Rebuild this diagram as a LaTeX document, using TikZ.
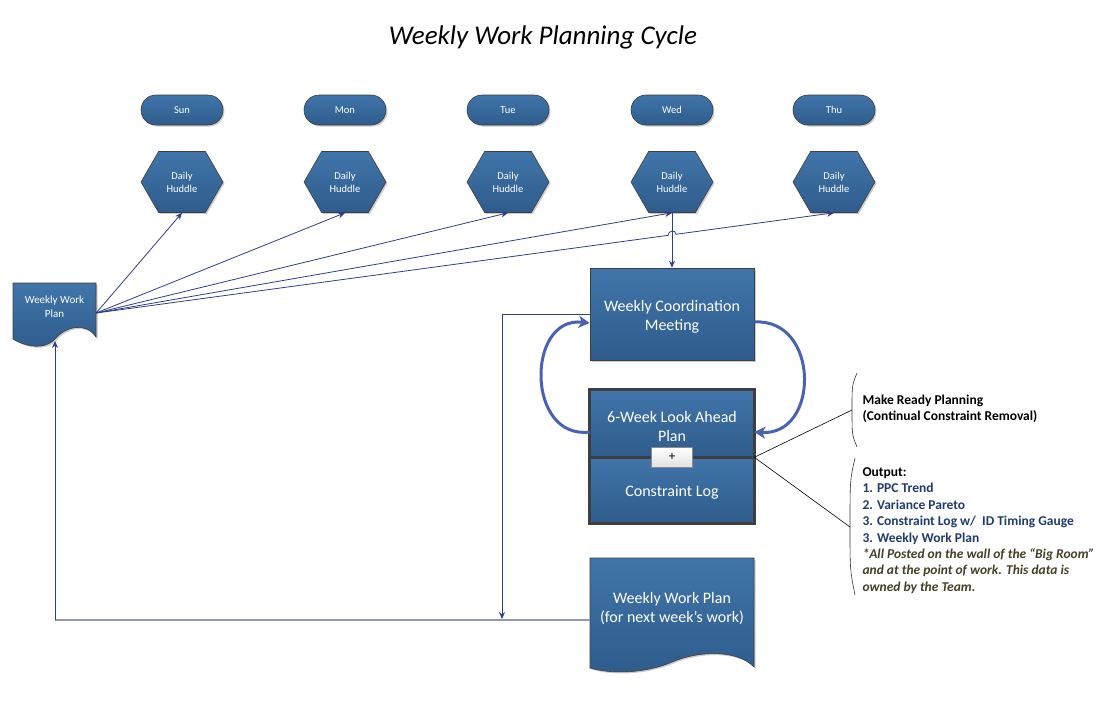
\documentclass[tikz,border=0pt]{standalone}
\usepackage{fontspec}
\setmainfont{Carlito}
\usetikzlibrary{shapes.symbols,shapes.misc,arrows.meta,calc,shadows}
\definecolor{boxtop}{HTML}{4175AA}
\definecolor{boxbot}{HTML}{2E5C8C}
\definecolor{boxline}{HTML}{3F3F3F}
\definecolor{linkblue}{HTML}{2F3E8C}
\definecolor{loopblue}{HTML}{4A62B4}
\definecolor{flatblue}{HTML}{8E98BA}
\definecolor{itemblue}{HTML}{1F3C6E}
\definecolor{notetan}{HTML}{463F26}
\tikzset{
  softshadow/.style={drop shadow={shadow xshift=1.5pt,shadow yshift=-1.5pt,fill=black!45,opacity=.45}},
  bluebox/.style={top color=boxtop,bottom color=boxbot,draw=boxline,line width=0.6pt,
    text=white,align=center,inner sep=0pt,softshadow},
  day/.style={bluebox,rounded rectangle,minimum width=82pt,minimum height=30pt,
    font=\fontsize{10.5}{12}\selectfont},
  huddle/.style={bluebox,signal,signal to=west and east,signal pointer angle=120,
    minimum width=82pt,minimum height=61pt,font=\fontsize{10.5}{13}\selectfont},
  bigbox/.style={bluebox,minimum width=164pt,font=\fontsize{16}{19}\selectfont},
  boxtext/.style={text=white,align=center,font=\fontsize{16}{19}\selectfont},
  link/.style={draw=linkblue,line width=0.8pt,-{Stealth[length=7pt,width=6pt]}},
  loop/.style={draw=loopblue,line width=3pt,-{Stealth[length=11pt,width=12pt,inset=3pt]}},
  note/.style={align=left,anchor=west,font=\fontsize{13.5}{16.4}\selectfont\bfseries}
}
\begin{document}
\begin{tikzpicture}[x=1pt,y=-1pt]
\useasboundingbox (0,0) rectangle (1114,707);

% title
\node[font=\fontsize{27}{30}\selectfont\itshape] (title) at (543,37) {Weekly Work Planning Cycle};

% days and huddles
\foreach \d/\x [count=\i] in {Sun/182,Mon/345,Tue/508,Wed/672,Thu/834}{
  \node[day] (day\i) at (\x,110) {\d};
  \node[huddle] (hud\i) at (\x,182) {Daily\\Huddle};
}

% weekly work plan (left document)
\path[bluebox] (13,283) -- (96,283) -- (96,337)
  .. controls (86,322) and (66,326) .. (55,339)
  .. controls (44,351) and (24,346) .. (13,339) -- cycle;
\node[text=white,align=center,font=\fontsize{11}{14}\selectfont,minimum width=83pt] (wpl) at (54.5,307) {Weekly Work\\Plan};
\coordinate (wplR) at ([yshift=-6pt]wpl.east);
\coordinate (wplB) at (55,341);

% coordination meeting and look ahead plan
\node[bigbox,minimum height=92pt] (meet) at (672,314) {};
\node[boxtext] (meettext) at (672,317) {Weekly Coordination\\Meeting};
\node[bigbox,minimum height=67pt] (look) at (672,423.5) {};
\node[boxtext] (looktext) at (672,426) {6-Week Look Ahead\\Plan};
\node[bigbox,minimum height=66pt] (clog) at (672,490) {};
\node[boxtext] (clogtext) at (672,492) {Constraint Log};
\draw[boxline,line width=3pt] (look.north west) rectangle (clog.south east);
\draw[boxline,line width=3pt] (look.south west) -- (look.south east);
\node[top color=white,bottom color=black!12,draw=black!45,line width=0.6pt,
  minimum width=41pt,minimum height=20pt,inner sep=0pt,font=\fontsize{13}{13}\selectfont] (plus) at (look.south) {+};

% next week's plan (bottom document)
\path[bluebox] (590,558) -- (754,558) -- (754,667)
  .. controls (738,650) and (700,650) .. (672,662)
  .. controls (644,674) and (610,674) .. (590,668) -- cycle;
\node[boxtext,minimum width=164pt] (nwp) at (672,609) {Weekly Work Plan\\(for next week’s work)};

% links to huddles
\foreach \i in {1,...,4} \draw[link] (wplR) -- (hud\i.south);
\draw[link] (hud4.south) -- (meet.north);
\coordinate (hop) at (intersection of wplR--hud5.south and hud4.south--meet.north);
\draw[link] (wplR) -- ($(hop)!4pt!(wplR)$)
  .. controls +(0,-5) and +(0,-5) .. ($(hop)!4pt!(hud5.south)$) -- (hud5.south);

% make ready loop
\draw[loop] ([yshift=-8pt]meet.east) .. controls (820,318) and (820,436) .. ([yshift=-8.5pt]look.east);
\draw[loop] ([yshift=-8.5pt]look.west) .. controls (526,440) and (526,316) .. ([yshift=-9pt]meet.west);

% feedback to the plan
\coordinate (corner) at (55,620);
\coordinate (join) at (502,619);
\draw[flatblue,line width=1.6pt] ([yshift=-11pt]nwp.west) -- (corner);
\draw[link] (corner) -- (wplB);
\draw[link] (meet.west) -| (join);

% notes
\coordinate (brace1) at (852,410);
\coordinate (brace2) at (850,527);
\draw[black!80,line width=0.6pt] (857,373) .. controls (852,385) .. (brace1) .. controls (852,435) .. (857,447);
\draw[black!80,line width=0.6pt] (855,458) .. controls (850,480) .. (brace2) .. controls (850,570) .. (855,595);
\draw[black,line width=0.6pt] (look.south east) -- (brace1);
\draw[black,line width=0.6pt] (look.south east) -- (brace2);
\node[note] (ready) at (859,409) {Make Ready Planning\\(Continual Constraint Removal)};
\node[note] (output) at (859,530.5) {Output:\\
  {\color{itemblue}1. PPC Trend}\\
  {\color{itemblue}2. Variance Pareto}\\
  {\color{itemblue}3. Constraint Log w/\ \ ID Timing Gauge}\\
  {\color{itemblue}3. Weekly Work Plan}\\
  {\color{notetan}\itshape *All Posted on the wall of the “Big Room”}\\
  {\color{notetan}\itshape and at the point of work. This data is}\\
  {\color{notetan}\itshape owned by the Team.}};
\end{tikzpicture}
\end{document}
